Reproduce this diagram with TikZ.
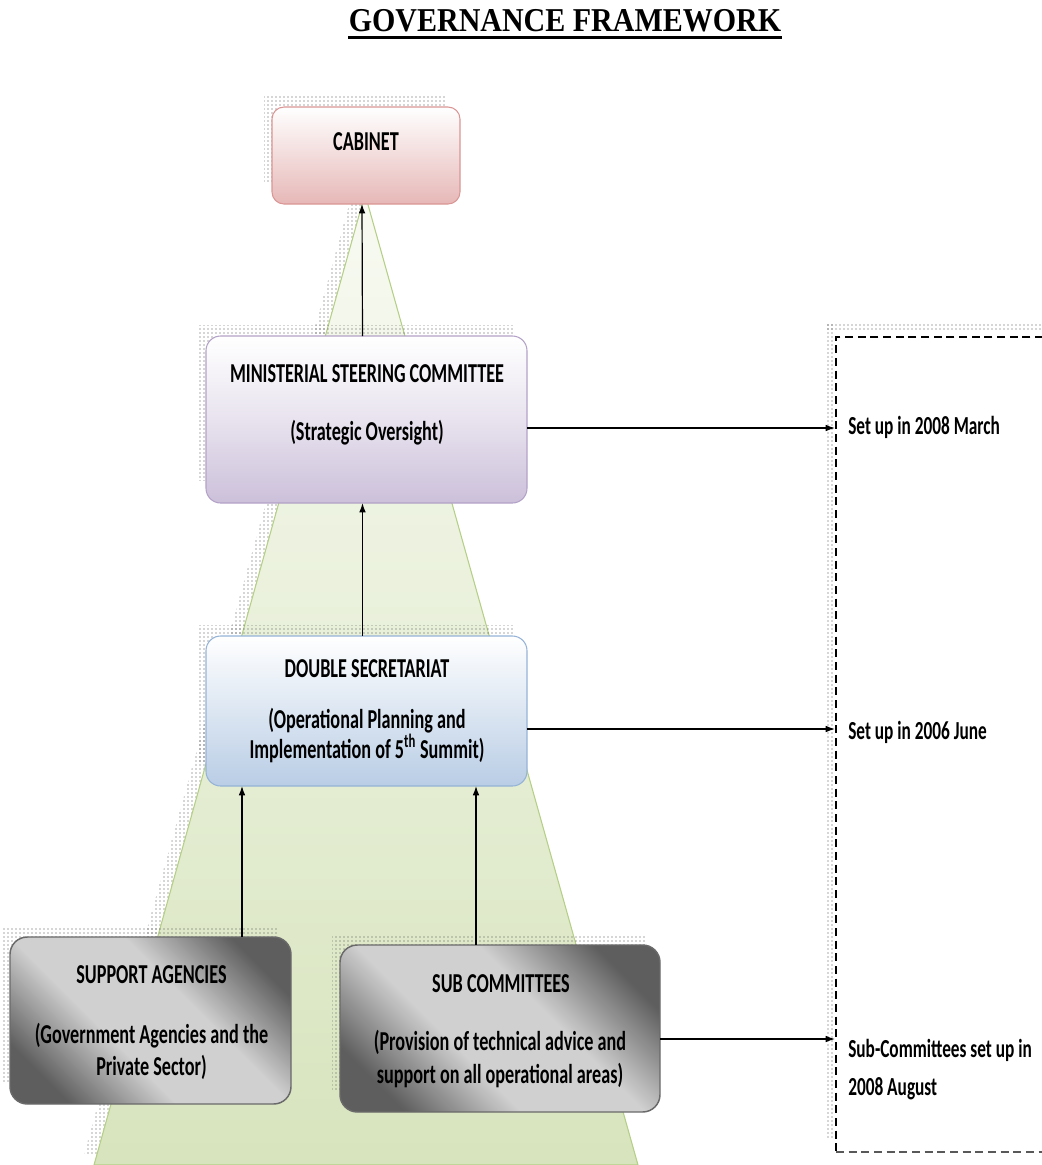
\documentclass[tikz,border=0pt]{standalone}
\usepackage{fontspec}
\usetikzlibrary{patterns,arrows.meta,calc}
\newfontfamily\cbf[FakeStretch=0.665]{Carlito}
\newfontfamily\tnr[FakeStretch=0.9]{Liberation Serif}
\definecolor{gdark}{HTML}{5E5E5E}
\definecolor{glight}{HTML}{D0D0D0}
\definecolor{pinkb}{HTML}{E6B8B7}
\definecolor{pinkd}{HTML}{D99694}
\definecolor{purb}{HTML}{CCC0DA}
\definecolor{purd}{HTML}{B3A2C7}
\definecolor{blub}{HTML}{B9CDE5}
\definecolor{blud}{HTML}{95B3D7}
\definecolor{grnf}{HTML}{D7E4BD}
\definecolor{grnt}{HTML}{F8FAF2}
\definecolor{grnd}{HTML}{B5CF86}
\definecolor{grayd}{HTML}{6A6A6A}
\pgfdeclarehorizontalshading{graydiag}{100bp}{color(0bp)=(gdark); color(24bp)=(gdark); color(41bp)=(glight); color(59bp)=(glight); color(76bp)=(gdark); color(100bp)=(gdark)}
\pgfdeclarelayer{tri}
\pgfdeclarelayer{shd}
\pgfsetlayers{tri,shd,main}
\begin{document}
\begin{tikzpicture}[x=0.75pt,y=-0.75pt,
  box/.style={draw, line width=0.8pt, inner sep=0pt, outer sep=0pt},
  txt/.style={font=\cbf\bfseries\fontsize{20.5}{24}\selectfont, inner sep=0pt, anchor=base, text height=13pt, text depth=3.5pt},
  txtm/.style={font=\cbf\bfseries\fontsize{20.5}{21}\selectfont, inner sep=0pt, anchor=base, align=center},
  lbl/.style={font=\cbf\bfseries\fontsize{19.5}{23}\selectfont, inner sep=0pt, anchor=base west, text height=13pt, text depth=3.5pt},
  arr/.style={line width=0.9pt, -{Latex[length=7pt,width=5pt]}},
  shad/.style={pattern=dots, pattern color=black!70}]
\useasboundingbox (0,0) rectangle (1042,1165);

% title
\node[font=\tnr\bfseries\fontsize{25}{29}\selectfont, inner sep=0pt, anchor=base] (ttl) at (565,31) {GOVERNANCE FRAMEWORK};
\draw[line width=2.2pt] ([yshift=-4.6pt]ttl.base west) -- ([yshift=-4.6pt]ttl.base east);

% green triangle with dotted shadow
\begin{pgfonlayer}{tri}
\fill[shad] (355,184) -- (628,1155) -- (84,1155) -- cycle;
\path[draw=grnd, line width=0.8pt, top color=grnt, bottom color=grnf] (365,194) -- (638,1165) -- (94,1165) -- cycle;
\end{pgfonlayer}

% boxes
\node[box, rounded corners=9pt, draw=pinkd, top color=white, bottom color=pinkb,
  minimum width=141pt, minimum height=72.75pt] (cab) at (366,155.5) {};
\node[box, rounded corners=11pt, draw=purd, top color=white, bottom color=purb, middle color=purb!45!white,
  minimum width=240.75pt, minimum height=125.25pt] (msc) at (366.5,419.5) {};
\node[box, rounded corners=11pt, draw=blud, top color=white, bottom color=blub, middle color=blub!50!white,
  minimum width=240.75pt, minimum height=112.5pt] (ds) at (366.5,711) {};
\node[box, rounded corners=13pt, draw=grayd, line width=1.1pt, shading=graydiag, shading angle=45,
  minimum width=210.75pt, minimum height=125.25pt] (sa) at (150.5,1020.5) {};
\node[box, rounded corners=13pt, draw=grayd, line width=1.1pt, shading=graydiag, shading angle=45,
  minimum width=240pt, minimum height=125.25pt] (sc) at (500,1028.5) {};

% dotted shadows
\begin{pgfonlayer}{shd}
\foreach \b in {cab,msc,ds,sa,sc}{
  \fill[shad] ($(\b.north west)+(-8,-11)$) rectangle ($(\b.south east)+(-14,-23)$);
}
\fill[shad] (827,323) rectangle (1042,331);
\fill[shad] (827,323) rectangle (834,1138);
\end{pgfonlayer}

% texts
\node[txt] (cabt) at (366,150) {CABINET};
\node[txt] (msct) at (367,382) {MINISTERIAL STEERING COMMITTEE};
\node[txt] (mscs) at (367,440) {(Strategic Oversight)};
\node[txt] (dst) at (367,677) {DOUBLE SECRETARIAT};
\node[txtm] (dss) at (367,758) {(Operational Planning and\\Implementation of 5\textsuperscript{th} Summit)};
\node[txt] (sat) at (151.5,983) {SUPPORT AGENCIES};
\node[txt] (sas1) at (151.5,1043) {(Government Agencies and the};
\node[txt] (sas2) at (151.5,1075) {Private Sector)};
\node[txt] (sct) at (501,992) {SUB COMMITTEES};
\node[txt] (scs1) at (500,1050) {(Provision of technical advice and};
\node[txt] (scs2) at (500,1083) {support on all operational areas)};

% dashed frame
\coordinate (dtl) at (836,337);
\coordinate (dbl) at (836,1152);
\draw[line width=0.9pt, dash pattern=on 6pt off 3.5pt] (1043,337) -- (dtl) -- (dbl);
\draw[line width=0.9pt, dash pattern=on 6pt off 3.5pt, draw=black!65] (dbl) -- (1043,1152);

% labels
\node[lbl] (l1) at (848,434) {Set up in 2008 March};
\node[lbl] (l2) at (848,739) {Set up in 2006 June};
\node[lbl] (l3a) at (848,1057) {Sub-Committees set up in};
\node[lbl] (l3b) at (848,1095) {2008 August};

% arrows
\coordinate (c1) at (242,0);
\coordinate (c2) at (476,0);
\coordinate (t1) at (835,428);
\coordinate (t2) at (835,729);
\coordinate (t3) at (835,1039);
\draw[arr] ([xshift=-3pt]msc.north) -- ([xshift=-3pt]cab.south);
\draw[arr] ([xshift=-3pt]ds.north) -- ([xshift=-3pt]msc.south);
\draw[arr] (sa.north -| c1) -- (ds.south -| c1);
\draw[arr] (sc.north -| c2) -- (ds.south -| c2);
\draw[arr] (msc.east |- t1) -- (t1);
\draw[arr] (ds.east |- t2) -- (t2);
\draw[arr] (sc.east |- t3) -- (t3);
\end{tikzpicture}
\end{document}
